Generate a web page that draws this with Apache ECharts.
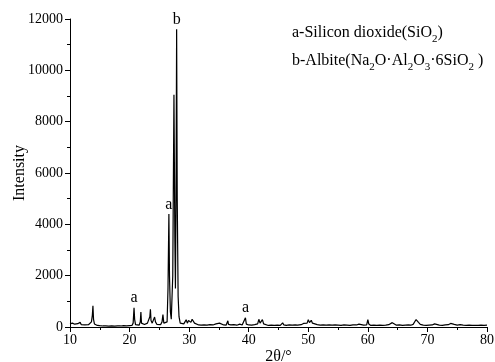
<!DOCTYPE html>
<html>
<head>
<meta charset="utf-8">
<script src="https://cdn.jsdelivr.net/npm/echarts@6/dist/echarts.min.js"></script>
<style>html,body{margin:0;padding:0;background:#fff}#c{width:495px;height:362px}</style>
</head>
<body>
<div id="c"></div>
<script>
const twoTheta = [10.0,10.2,10.4,10.6,10.8,11.0,11.3,11.5,11.7,11.9,12.2,12.5,12.8,13.1,13.4,13.6,13.75,13.85,13.95,14.1,14.3,14.6,15.0,15.5,16.0,16.5,17.0,17.5,18.0,18.5,19.0,19.5,20.0,20.4,20.6,20.75,20.85,21.0,21.3,21.6,21.8,21.9,22.0,22.2,22.5,22.8,23.0,23.2,23.4,23.5,23.6,23.8,24.0,24.2,24.35,24.6,24.9,25.2,25.45,25.6,25.75,26.0,26.3,26.45,26.6,26.7,26.85,27.0,27.1,27.25,27.45,27.6,27.7,27.8,27.9,28.0,28.15,28.3,28.5,28.8,29.1,29.3,29.5,29.7,29.9,30.1,30.3,30.5,30.7,30.9,31.2,31.6,32.0,32.5,33.0,33.5,34.0,34.5,34.8,35.1,35.4,35.8,36.2,36.5,36.6,37.0,37.5,38.0,38.5,38.9,39.2,39.45,39.6,40.0,40.5,41.0,41.5,41.7,41.9,42.1,42.3,42.5,42.8,43.3,43.8,44.3,44.8,45.3,45.7,45.9,46.3,46.8,47.3,47.6,47.8,48.2,48.5,48.8,49.2,49.5,49.8,50.0,50.2,50.5,50.7,51.0,51.5,52.0,52.5,53.0,53.5,54.0,54.5,55.0,55.5,56.0,56.5,57.0,57.5,57.8,58.1,58.5,58.8,59.3,59.8,60.0,60.15,60.5,61.0,61.5,62.0,62.5,63.0,63.5,63.8,64.1,64.4,64.8,65.3,65.8,66.3,66.8,67.2,67.6,67.9,68.1,68.3,68.5,68.8,69.3,69.8,70.3,70.8,71.2,71.5,72.0,72.5,73.0,73.5,73.9,74.2,74.5,75.0,75.5,76.0,76.5,77.0,77.5,78.0,78.5,79.0,79.5,80.0];
const intensity = [120,90,150,80,110,90,130,100,180,90,100,80,110,90,130,200,450,830,300,120,80,60,50,40,45,35,40,35,45,40,50,45,55,60,150,750,300,90,80,70,200,580,150,80,100,90,150,120,400,690,250,150,220,390,200,100,80,90,200,480,150,120,200,1500,4400,2000,600,300,350,2000,9050,3500,1500,5000,11600,5000,1200,400,150,100,120,200,280,150,250,320,180,300,250,150,100,80,70,80,70,90,80,120,160,150,120,80,70,240,100,80,90,70,110,80,120,360,110,80,70,90,120,300,150,120,290,120,80,60,70,60,70,60,160,80,60,80,70,130,80,70,130,90,140,100,150,280,170,260,150,100,90,70,80,70,80,70,80,70,60,80,70,60,80,140,80,110,100,70,80,290,120,60,70,60,70,65,70,90,150,170,100,70,80,60,70,80,70,100,170,290,360,180,100,70,60,70,80,120,80,70,60,80,90,140,150,100,70,90,70,60,70,60,65,60,70,60,70];
// Peak annotations
const peakX = [27.9, 26.6, 20.75, 39.45];
const peakY = [11600, 4400, 750, 360];
const peakText = ['b', 'a', 'a', 'a'];
const xTicks = [10, 20, 30, 40, 50, 60, 70, 80];
const yTicks = [0, 2000, 4000, 6000, 8000, 10000, 12000];

const font = '"Liberation Serif","Times New Roman",serif';
const chart = echarts.init(document.getElementById('c'), null, {renderer: 'canvas'});
const axisCommon = {
  axisLine: {show: true, onZero: false, lineStyle: {color: '#000', width: 1}},
  axisTick: {show: true, inside: false, length: 5, lineStyle: {color: '#000'}},
  minorTick: {show: true, splitNumber: 2, length: 3, lineStyle: {color: '#000'}},
  splitLine: {show: false},
  axisLabel: {color: '#000', fontFamily: font, fontSize: 14, formatter: v => String(v)},
  nameTextStyle: {color: '#000', fontFamily: font, fontSize: 16},
  nameMoveOverlap: false
};
chart.setOption({
  animation: false,
  backgroundColor: '#fff',
  grid: {left: 70, right: 8, top: 19, bottom: 35, containLabel: false, outerBoundsMode: 'none'},
  xAxis: Object.assign({}, axisCommon, {
    type: 'value', min: xTicks[0], max: xTicks[xTicks.length - 1], interval: 10,
    name: '2θ/°', nameLocation: 'middle', nameGap: 22,
    axisLabel: Object.assign({}, axisCommon.axisLabel, {margin: 6})
  }),
  yAxis: Object.assign({}, axisCommon, {
    type: 'value', min: yTicks[0], max: yTicks[yTicks.length - 1], interval: 2000,
    name: 'Intensity', nameLocation: 'middle', nameGap: 42,
    axisLabel: Object.assign({}, axisCommon.axisLabel, {margin: 7})
  }),
  series: [
    {
      type: 'line', data: twoTheta.map((x, i) => [x, intensity[i]]),
      showSymbol: false, symbol: 'none',
      lineStyle: {color: '#000', width: 1.2}, z: 3
    },
    {
      type: 'scatter', data: peakX.map((x, i) => [x, peakY[i]]),
      symbolSize: 1, itemStyle: {color: 'rgba(0,0,0,0)'},
      label: {
        show: true, position: 'top', distance: 1, color: '#000', opacity: 1,
        fontFamily: font, fontSize: 16,
        formatter: p => peakText[p.dataIndex]
      }, z: 4
    }
  ],
  graphic: [
    {
      type: 'text', left: 292, top: 25,
      style: {
        text: '{n|a-Silicon dioxide(SiO}{s|2}{n|)}',
        rich: {
          n: {fontFamily: font, fontSize: 16, fill: '#000', verticalAlign: 'bottom'},
          s: {fontFamily: font, fontSize: 11, fill: '#000', verticalAlign: 'bottom', padding: [0, 0, -4, 0]}
        }
      }
    },
    {
      type: 'text', left: 292, top: 53,
      style: {
        text: '{n|b-Albite(Na}{s|2}{n|O·Al}{s|2}{n|O}{s|3}{n|·6SiO}{s|2}{n| )}',
        rich: {
          n: {fontFamily: font, fontSize: 16, fill: '#000', verticalAlign: 'bottom'},
          s: {fontFamily: font, fontSize: 11, fill: '#000', verticalAlign: 'bottom', padding: [0, 0, -4, 0]}
        }
      }
    }
  ]
});
</script>
</body>
</html>
